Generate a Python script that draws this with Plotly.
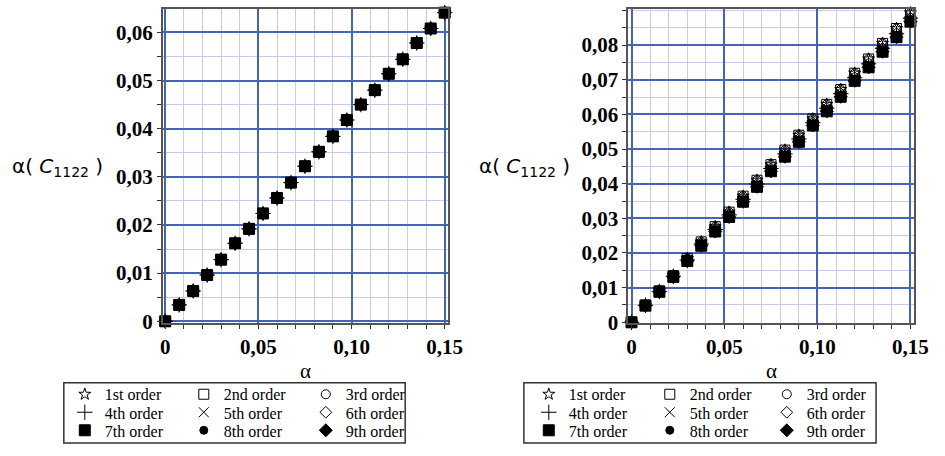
import plotly.graph_objects as go

# ---------------- data ----------------
alpha = [0, 0.0075, 0.015, 0.0225, 0.03, 0.0375, 0.045, 0.0525, 0.06, 0.0675, 0.075,
         0.0825, 0.09, 0.0975, 0.105, 0.1125, 0.12, 0.1275, 0.135, 0.1425, 0.15]

# left panel: all orders coincide
left_all = [0, 0.0034, 0.0063, 0.0096, 0.0128, 0.0162, 0.0192, 0.0224, 0.0256, 0.0288, 0.0322,
            0.0352, 0.0384, 0.0418, 0.0450, 0.0480, 0.0514, 0.0544, 0.0578, 0.0608, 0.0641]

# right panel: low orders sit slightly above high orders
right_low_orders = [0, 0.0050, 0.0091, 0.0135, 0.0184, 0.0232, 0.0276, 0.0318, 0.0364, 0.0410, 0.0455,
                    0.0497, 0.0540, 0.0587, 0.0629, 0.0672, 0.0719, 0.0760, 0.0805, 0.0848, 0.0893]
right_mid_orders = [0, 0.0049, 0.0089, 0.0133, 0.0180, 0.0226, 0.0268, 0.0310, 0.0355, 0.0399, 0.0444,
                    0.0486, 0.0529, 0.0576, 0.0618, 0.0660, 0.0706, 0.0746, 0.0791, 0.0833, 0.0878]
right_high_orders = [0, 0.0048, 0.0088, 0.0131, 0.0177, 0.0221, 0.0262, 0.0304, 0.0348, 0.0391, 0.0436,
                     0.0478, 0.0521, 0.0568, 0.0609, 0.0651, 0.0697, 0.0736, 0.0781, 0.0823, 0.0868]

order_names = ["1st order", "2nd order", "3rd order", "4th order", "5th order",
               "6th order", "7th order", "8th order", "9th order"]
right_series = [right_low_orders, right_low_orders, right_low_orders,
                right_mid_orders, right_mid_orders, right_mid_orders,
                right_high_orders, right_high_orders, right_high_orders]

x_tickvals = [0, 0.05, 0.10, 0.15]
x_ticktext = ["0", "0,05", "0,10", "0,15"]
yl_tickvals = [0, 0.01, 0.02, 0.03, 0.04, 0.05, 0.06]
yl_ticktext = ["0", "0,01", "0,02", "0,03", "0,04", "0,05", "0,06"]
yr_tickvals = [0, 0.01, 0.02, 0.03, 0.04, 0.05, 0.06, 0.07, 0.08]
yr_ticktext = ["0", "0,01", "0,02", "0,03", "0,04", "0,05", "0,06", "0,07", "0,08"]

# ---------------- styles ----------------
symbols = ["star-open", "square-open", "circle-open", "cross-thin-open", "x-thin-open",
           "diamond-open", "square", "circle", "diamond"]
sizes = [9, 10, 9, 11, 10, 9, 11, 8, 10]

W, H = 945, 456
def px(x):
    return x / W
def py(y):
    return 1 - y / H

left_leg_cols = [74, 77, 80]
right_leg_cols = [76, 72, 80]
row_y = [405, 423.5, 442]

fig = go.Figure()
for panel, (xa, ya, series, legs, cols) in enumerate([
        ("x", "y", [left_all] * 9, ["legend", "legend2", "legend3"], left_leg_cols),
        ("x2", "y2", right_series, ["legend4", "legend5", "legend6"], right_leg_cols)]):
    for i in range(9):
        fig.add_trace(go.Scatter(
            x=alpha, y=series[i], mode="markers", name=order_names[i],
            xaxis=xa, yaxis=ya, cliponaxis=False,
            marker=dict(symbol=symbols[i], size=sizes[i], color="black",
                        line=dict(color="black", width=1)),
            legend=legs[i // 3], legendwidth=cols[i % 3], showlegend=True,
        ))

major_grid = "#4464bb"
minor_grid = "#c9c9e8"
tickfont = dict(family="Liberation Serif", size=21, color="black", weight="bold")

def xaxis_cfg(domain, rng):
    return dict(domain=domain, range=rng, tickvals=x_tickvals, ticktext=x_ticktext,
                tickfont=tickfont, ticks="outside", ticklen=4, tickcolor="#333",
                showgrid=True, gridcolor=major_grid, gridwidth=1.5,
                zeroline=True, zerolinecolor=major_grid, zerolinewidth=1.5,
                showline=True, linecolor="#555", linewidth=1.5, mirror=True,
                minor=dict(tick0=0, dtick=0.01, ticks="outside", ticklen=4, tickcolor="#333",
                           showgrid=True, gridcolor=minor_grid, gridwidth=1),
                fixedrange=True)

def yaxis_cfg(domain, rng, tv, tt, anchor):
    return dict(domain=domain, range=rng, tickvals=tv, ticktext=tt, anchor=anchor,
                tickfont=tickfont, ticks="outside", ticklen=4, tickcolor="#333",
                showgrid=True, gridcolor=major_grid, gridwidth=1.5,
                zeroline=True, zerolinecolor=major_grid, zerolinewidth=1.5,
                showline=True, linecolor="#555", linewidth=1.5, mirror=True,
                minor=dict(tick0=0, dtick=0.005, ticks="outside", ticklen=4, tickcolor="#333",
                           showgrid=True, gridcolor=minor_grid, gridwidth=1),
                fixedrange=True)

ydom = [py(331.7), py(9)]
layout = dict(
    width=W, height=H, margin=dict(l=0, r=0, t=0, b=0),
    paper_bgcolor="white", plot_bgcolor="white",
    xaxis=xaxis_cfg([px(162.7), px(453.3)], [-0.0014, 0.1516]) | dict(anchor="y"),
    yaxis=yaxis_cfg(ydom, [-0.00035, 0.0649], yl_tickvals, yl_ticktext, "x"),
    xaxis2=xaxis_cfg([px(637.3), px(928.3)], [-0.0018, 0.1517]) | dict(anchor="y2"),
    yaxis2=yaxis_cfg(ydom, [-0.0002, 0.0905], yr_tickvals, yr_ticktext, "x2"),
    showlegend=True,
)
legfont = dict(family="Liberation Serif", size=16, color="black")
for k, (name, x0) in enumerate([("legend", 63), ("legend2", 63), ("legend3", 63),
                                 ("legend4", 536), ("legend5", 536), ("legend6", 536)]):
    layout[name] = dict(orientation="h", x=px(x0), xanchor="left", y=py(row_y[k % 3]),
                        yanchor="middle", font=legfont, bgcolor="rgba(0,0,0,0)",
                        borderwidth=0, tracegroupgap=0)
fig.update_layout(**layout)

# legend boxes
for x0, x1 in [(62, 410), (531, 890)]:
    fig.add_shape(type="rect", xref="paper", yref="paper", x0=px(x0), x1=px(x1),
                  y0=py(455), y1=py(393), line=dict(color="#333", width=1.5))

# axis labels
for cx in [308, 783]:
    fig.add_annotation(xref="paper", yref="paper", x=px(cx), y=py(381), text="α",
                       xanchor="center", yanchor="middle", showarrow=False,
                       font=dict(family="Liberation Serif", size=21, color="black"))
for cx in [56, 532]:
    fig.add_annotation(xref="paper", yref="paper", x=px(cx), y=py(172),
                       text="α( <i>C</i><sub>1122</sub> )", showarrow=False,
                       xanchor="center", yanchor="middle",
                       font=dict(family="DejaVu Sans", size=20, color="black"))

fig.write_html("out.html")
